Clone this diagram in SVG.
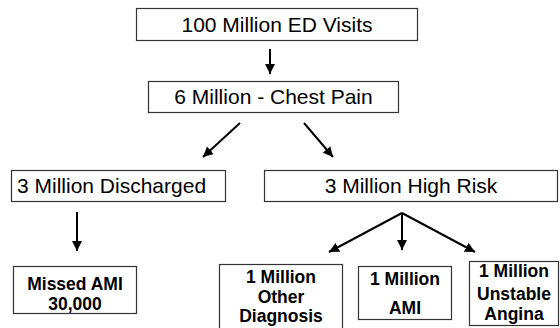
<svg xmlns="http://www.w3.org/2000/svg" width="560" height="328" viewBox="0 0 560 328">
<defs>
<marker id="ah" markerUnits="userSpaceOnUse" markerWidth="10" markerHeight="10" refX="10" refY="5" orient="auto">
<path d="M0,0 L10,5 L0,10 z" fill="#000"/>
</marker>
<style>
.box{fill:#fff;stroke:#333;stroke-width:1.2}
.t{font-family:"Liberation Sans",Arial,sans-serif;font-size:21px;fill:#000}
.b{font-family:"Liberation Sans",Arial,sans-serif;font-size:17.5px;font-weight:bold;fill:#000;text-anchor:middle}
.c{stroke:#000;stroke-width:2;fill:none;marker-end:url(#ah)}
</style>
</defs>
<rect width="560" height="328" fill="#fff"/>
<g id="connectors">
<line class="c" x1="270" y1="49" x2="270" y2="74"/>
<line class="c" x1="240" y1="123" x2="203" y2="157"/>
<line class="c" x1="304" y1="123" x2="333" y2="157"/>
<line class="c" x1="77" y1="212" x2="77" y2="251"/>
<line class="c" x1="402" y1="213" x2="329" y2="252"/>
<line class="c" x1="402" y1="213" x2="402" y2="250"/>
<line class="c" x1="402" y1="213" x2="475" y2="252"/>
</g>
<g id="n1">
<rect class="box" x="136.5" y="8.5" width="281" height="32"/>
<text class="t" x="277" y="32" text-anchor="middle">100 Million ED Visits</text>
</g>
<g id="n2">
<rect class="box" x="148.5" y="81.5" width="250" height="31"/>
<text class="t" x="273.5" y="104" text-anchor="middle">6 Million - Chest Pain</text>
</g>
<g id="n3">
<rect class="box" x="11.5" y="170.5" width="214" height="31"/>
<text class="t" x="17" y="193">3 Million Discharged</text>
</g>
<g id="n4">
<rect class="box" x="264.5" y="170.5" width="293" height="31"/>
<text class="t" x="411" y="193" text-anchor="middle">3 Million High Risk</text>
</g>
<g id="n5">
<rect class="box" x="13.5" y="266.5" width="123" height="47"/>
<text class="b" x="75" y="290">Missed AMI</text>
<text class="b" x="75" y="310">30,000</text>
</g>
<g id="n6">
<rect class="box" x="219.5" y="264.5" width="123" height="66"/>
<text class="b" x="281" y="283">1 Million</text>
<text class="b" x="281" y="303">Other</text>
<text class="b" x="281" y="322">Diagnosis</text>
</g>
<g id="n7">
<rect class="box" x="358.5" y="266.5" width="93" height="53"/>
<text class="b" x="405" y="285">1 Million</text>
<text class="b" x="405" y="314">AMI</text>
</g>
<g id="n8">
<rect class="box" x="469.5" y="261.5" width="89" height="64"/>
<text class="b" x="514" y="277">1 Million</text>
<text class="b" x="514" y="300">Unstable</text>
<text class="b" x="514" y="320">Angina</text>
</g>
</svg>
